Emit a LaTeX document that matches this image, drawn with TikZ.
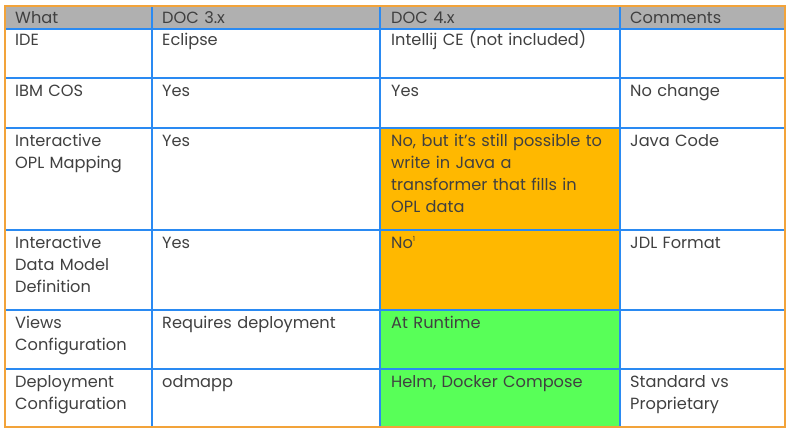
\documentclass[tikz,border=0pt]{standalone}
\usepackage{fontspec}
\setmainfont{Poppins}
\definecolor{headgrey}{HTML}{B0B0B0}
\definecolor{gridblue}{HTML}{2A8AF2}
\definecolor{frameorange}{HTML}{F2A33A}
\definecolor{noorange}{HTML}{FFB800}
\definecolor{yesgreen}{HTML}{58FF58}
\definecolor{celltext}{HTML}{404040}
\tikzstyle{cell}=[anchor=base west, inner sep=0pt, text width=220pt, align=left, text=celltext, font=\fontsize{16.2}{22}\selectfont]
\tikzstyle{grid}=[draw=gridblue, line width=1.2pt]
\tikzstyle{frame}=[draw=frameorange, line width=1.2pt]

\begin{document}
\begin{tikzpicture}[x=1pt, y=-1pt]
        \useasboundingbox (0,0) rectangle (791,433);
        % cell fills
        \fill[headgrey] (5,6) rectangle (785,29);
        \fill[noorange] (380,128) rectangle (620,310);
        \fill[yesgreen] (380,310) rectangle (620,427);
        % grid
        \foreach \y in {29,78,128,230,310,369}
            \draw[grid] (5,\y) -- (785,\y);
        \foreach \x in {152,380,620}
            \draw[grid] (\x,6) -- (\x,427);
        \draw[frame] (5,6) rectangle (785,427);
        % header
        \node[cell] (what) at (15,24) {What};
        \node[cell] (doc3) at (162,24) {DOC 3.x};
        \node[cell] (doc4) at (391,24) {DOC 4.x};
        \node[cell] (comments) at (630,24) {Comments};
        % rows
        \node[cell] (ide) at (15,46) {IDE};
        \node[cell] (ide3) at (162,46) {Eclipse};
        \node[cell] (ide4) at (391,46) {Intellij CE (not included)};
        \node[cell] (cos) at (15,96) {IBM COS};
        \node[cell] (cos3) at (162,96) {Yes};
        \node[cell] (cos4) at (391,96) {Yes};
        \node[cell] (cosc) at (630,96) {No change};
        \node[cell] (opl) at (15,146) {Interactive\\OPL Mapping};
        \node[cell] (opl3) at (162,146) {Yes};
        \node[cell] (opl4) at (391,146) {No, but it’s still possible to\\write in Java a\\transformer that fills in\\OPL data};
        \node[cell] (oplc) at (630,146) {Java Code};
        \node[cell] (model) at (15,248) {Interactive\\Data Model\\Definition};
        \node[cell] (model3) at (162,248) {Yes};
        \node[cell] (model4) at (391,248) {No\raisebox{0.75ex}{\fontsize{7}{8}\selectfont 1}};
        \node[cell] (modelc) at (630,248) {JDL Format};
        \node[cell] (views) at (15,328) {Views\\Configuration};
        \node[cell] (views3) at (162,328) {Requires deployment};
        \node[cell] (views4) at (391,328) {At Runtime};
        \node[cell] (deploy) at (15,387) {Deployment\\Configuration};
        \node[cell] (deploy3) at (162,387) {odmapp};
        \node[cell] (deploy4) at (391,387) {Helm, Docker Compose};
        \node[cell] (deployc) at (630,387) {Standard vs\\Proprietary};
    \end{tikzpicture}
\end{document}
